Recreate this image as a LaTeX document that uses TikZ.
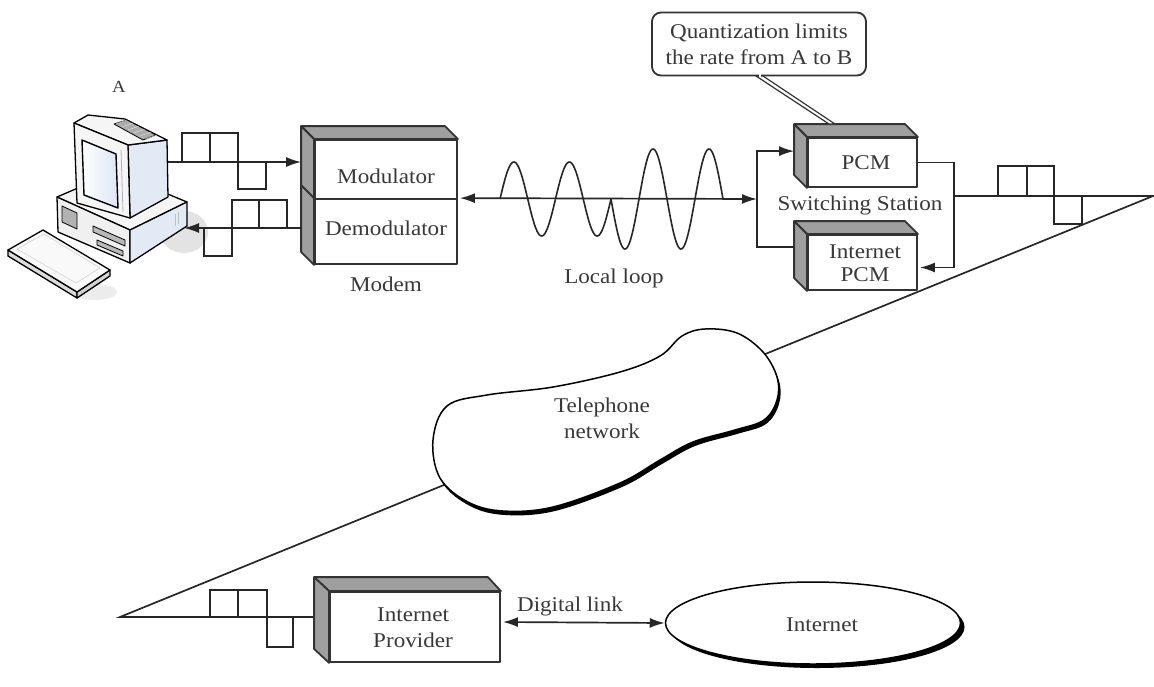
\documentclass[tikz,border=0pt]{standalone}
\usepackage{fontspec}
\setmainfont{Liberation Serif}[FakeStretch=1.1]
\usetikzlibrary{arrows.meta,calc,shapes.geometric,shadows}

\definecolor{screenblue}{HTML}{DCE6F4}
\definecolor{sideblue}{HTML}{E2EAF6}

\tikzset{
  wire/.style={draw=black!85, line width=1.7pt},
  arr/.style={wire, -{Latex[length=15pt,width=10pt]}},
  darr/.style={wire, {Latex[length=15pt,width=10pt]}-{Latex[length=15pt,width=10pt]}},
  front/.style={draw=black!80, line width=1.8pt, fill=white, inner sep=0pt, line join=round},
  sideface/.style={fill=gray!75, draw=black!80, line width=1.8pt, line join=round},
  txt/.style={text=black!78, font=\fontsize{21}{25}\selectfont, inner sep=0pt, align=center},
  pc/.style={draw=black, line width=1.3pt, line join=round},
  pulse/.style={draw=black!85, line width=1.6pt},
}

% grey top and left faces of a block whose front face is a node
\newcommand\depthfaces[3]{%
  \filldraw[sideface] (#1) -- ++(-13,-13) -- ($(#2)+(-13,-13)$) -- (#2) -- cycle;
  \filldraw[sideface] (#1) -- ++(-13,-13) -- ($(#3)+(-13,-13)$) -- (#3) -- cycle;}

\begin{document}
\begin{tikzpicture}[x=1pt, y=-1pt]
\useasboundingbox (0,0) rectangle (1154,686);

% ---------------- computer A ----------------
\node[txt, font=\fontsize{17}{20}\selectfont] (labA) at (119,87) {A};
\fill[gray!22] (184,232) ellipse [x radius=24pt, y radius=21pt];
\fill[gray!15] (95,292) ellipse [x radius=22pt, y radius=8pt];
% keyboard
\filldraw[pc, fill=gray!28] (8,250) -- (77,292) -- (77,298) -- (8,256) -- cycle;
\filldraw[pc, fill=gray!35] (77,292) -- (110,270) -- (110,276) -- (77,298) -- cycle;
\filldraw[pc, fill=gray!5] (8,250) -- (43,230) -- (110,270) -- (77,292) -- cycle;
\draw[gray!35, line width=0.6pt] (17,249) -- (44,234) -- (100,268) -- (76,283) -- cycle;
% system unit
\filldraw[pc, fill=gray!8] (57,197) -- (115,172) -- (187,202) -- (130,230) -- cycle;
\filldraw[pc, fill=gray!12] (57,197) -- (130,230) -- (130,263) -- (58,232) -- cycle;
\filldraw[pc, fill=sideblue] (130,230) -- (187,202) -- (187,226) -- (130,263) -- cycle;
\filldraw[pc, fill=gray!60, line width=0.8pt] (62,206) -- (77,213) -- (77,229) -- (62,222) -- cycle;
\filldraw[pc, fill=gray!55, line width=0.8pt] (93,226) -- (125,240) -- (125,246) -- (93,232) -- cycle;
\filldraw[pc, fill=gray!55, line width=0.8pt] (97,240) -- (123,251) -- (123,256) -- (97,245) -- cycle;
\draw[gray!50, line width=0.6pt] (175,214) -- (175,226) (178,212) -- (178,224);
% monitor
\filldraw[pc, fill=sideblue] (128,145) -- (167,140) -- (168,197) -- (130,218) -- cycle;
\filldraw[pc, fill=gray!8] (74,123) -- (88,115) -- (125,119) -- (167,140) -- (128,145) -- cycle;
\filldraw[pc, fill=gray!65, line width=0.8pt] (114,124) -- (127,120) -- (156,135) -- (143,140) -- cycle;
\foreach \k in {0,...,5}
  \draw[white!70!gray, line width=0.5pt] ($(116,124)+(\k*6,\k*3)$) -- ++(11,-4);
\filldraw[pc, fill=gray!8] (74,123) -- (128,145) -- (130,218) -- (77,203) -- cycle;
\shade[left color=white, right color=screenblue] (82,140) -- (116,154) -- (118,208) -- (84,195) -- cycle;
\draw[pc, line width=1.4pt] (82,140) -- (116,154) -- (118,208) -- (84,195) -- cycle;
\draw[gray!60, line width=0.8pt] (121,150) -- (123,212);

\coordinate (compOut) at (168,162);
\coordinate (compIn) at (184,228);

% ---------------- modem ----------------
\node[front, minimum width=142pt, minimum height=59pt] (mod) at (386,169.5) {};
\node[front, minimum width=142pt, minimum height=65pt] (demod) at (386,231.5) {};
\depthfaces{mod.north west}{mod.north east}{demod.south west}
\draw[sideface, fill=none] (demod.north west) -- ++(-13,-13);
\node[txt] (modT) at (386,176) {Modulator};
\node[txt] (demodT) at (386,228) {Demodulator};
\node[txt] (modem) at (386,284) {Modem};
\coordinate (modIn) at ($(mod.west)+(-13,-7.5)$);
\coordinate (demodOut) at ($(demod.west)+(-13,-3.5)$);

% pulses between computer and modem
\draw[pulse] (182,162) rectangle (210,133) (210,162) rectangle (238,133) (238,162) rectangle (266,189);
\draw[arr] (compOut) -- (modIn);
\draw[pulse] (204,228) rectangle (232,256) (232,228) rectangle (259,200) (259,228) rectangle (287,200);
\draw[arr] (demodOut) -- (compIn);

% ---------------- local loop ----------------
\coordinate (sw) at (757,199);
\draw[darr] ($(demod.north east)+(2,0)$) -- (sw);
\draw[black!85, line width=1.6pt] plot[domain=500:611, samples=120, smooth] (\x, {199-37*sin((\x-500)*6.4865)});
\draw[black!85, line width=1.6pt] plot[domain=611:723, samples=120, smooth] (\x, {199+50*sin((\x-611)*6.4286)});
\node[txt] (loop) at (614,278) {Local loop};

% ---------------- switching station ----------------
\node[front, minimum width=109pt, minimum height=49pt] (pcm) at (862.5,162.5) {};
\node[front, minimum width=109pt, minimum height=55pt] (ipcm) at (862.5,262.5) {};
\depthfaces{pcm.north west}{pcm.north east}{pcm.south west}
\depthfaces{ipcm.north west}{ipcm.north east}{ipcm.south west}
\node[txt] (pcmT) at (866,163) {PCM};
\node[txt] (ipcmT) at (865,263) {Internet\\[-2pt]PCM};
\node[txt] (station) at (860,205) {Switching Station};

\coordinate (pcmL) at ($(pcm.north west)+(-13,14)$);
\coordinate (ipcmL) at ($(ipcm.north west)+(-13,13)$);
\draw[arr] (ipcmL) -| (sw |- pcmL) -- (pcmL);
\draw[arr] (pcm.east) -- ++(36,0) coordinate (swR) |- ($(ipcm.east)+(2,5)$);

% callout
\filldraw[draw=black!80, fill=white, line width=1.2pt] (756,76) -- (829,124) -- (835,124) -- (763,76) -- cycle;
\node[txt, draw=black!80, line width=1.8pt, fill=white, rounded corners=9pt,
      minimum width=214pt, minimum height=63pt] (note) at (759,44)
      {Quantization limits\\[1pt]the rate from A to B};
\draw[white, line width=2.2pt] (758.5,75.5) -- (761,75.5);

% ---------------- trunk through the telephone network ----------------
\coordinate (tap) at (953,196);
\coordinate (rcorner) at (1153,196);
\coordinate (lcorner) at (120,617);
\node[front, minimum width=170pt, minimum height=70pt] (prov) at (415,627) {};
\coordinate (provL) at ($(prov.west)+(-15,-10)$);
\draw[wire] (tap) -- (rcorner) -- (lcorner) -- (provL);
\draw[pulse] (998,196) rectangle (1027,166) (1027,196) rectangle (1054,166) (1054,196) rectangle (1082,224);
\draw[pulse] (210,617) rectangle (238,590) (238,617) rectangle (267,590) (267,617) rectangle (293,647);

% telephone network cloud
\filldraw[draw=black, line width=1.5pt, fill=white,
  drop shadow={shadow xshift=2pt, shadow yshift=-4pt, fill=black, opacity=1}]
  plot[smooth cycle, tension=0.6] coordinates {(433,440) (447,406) (487,395) (553,387) (620,372)
  (660,356) (682,336) (705,329) (737,333) (763,352) (777,377) (777,400) (764,420) (735,430)
  (693,442) (660,460) (620,483) (553,507) (503,511) (468,502) (440,478)};
\node[txt] (tel) at (602,418) {Telephone\\[1pt]network};

% ---------------- provider and internet ----------------
\filldraw[sideface] (prov.north west) -- ++(-15,-14) -- ($(prov.north east)+(-13,-14)$) -- (prov.north east) -- cycle;
\filldraw[sideface] (prov.north west) -- ++(-15,-14) -- ($(prov.south west)+(-15,-14)$) -- (prov.south west) -- cycle;
\node[txt] (provT) at (413,628) {Internet\\[1pt]Provider};

\node[ellipse, draw=black, line width=1.5pt, fill=white, minimum width=295pt, minimum height=82pt,
      drop shadow={shadow xshift=4pt, shadow yshift=-4pt, fill=black, opacity=1}] (net) at (813,623) {};
\node[txt] (netT) at (822,625) {Internet};
\draw[darr] ($(prov.east)+(2,-5)$) -- (net.west);
\node[txt] (dl) at (570,606) {Digital link};
\end{tikzpicture}
\end{document}
